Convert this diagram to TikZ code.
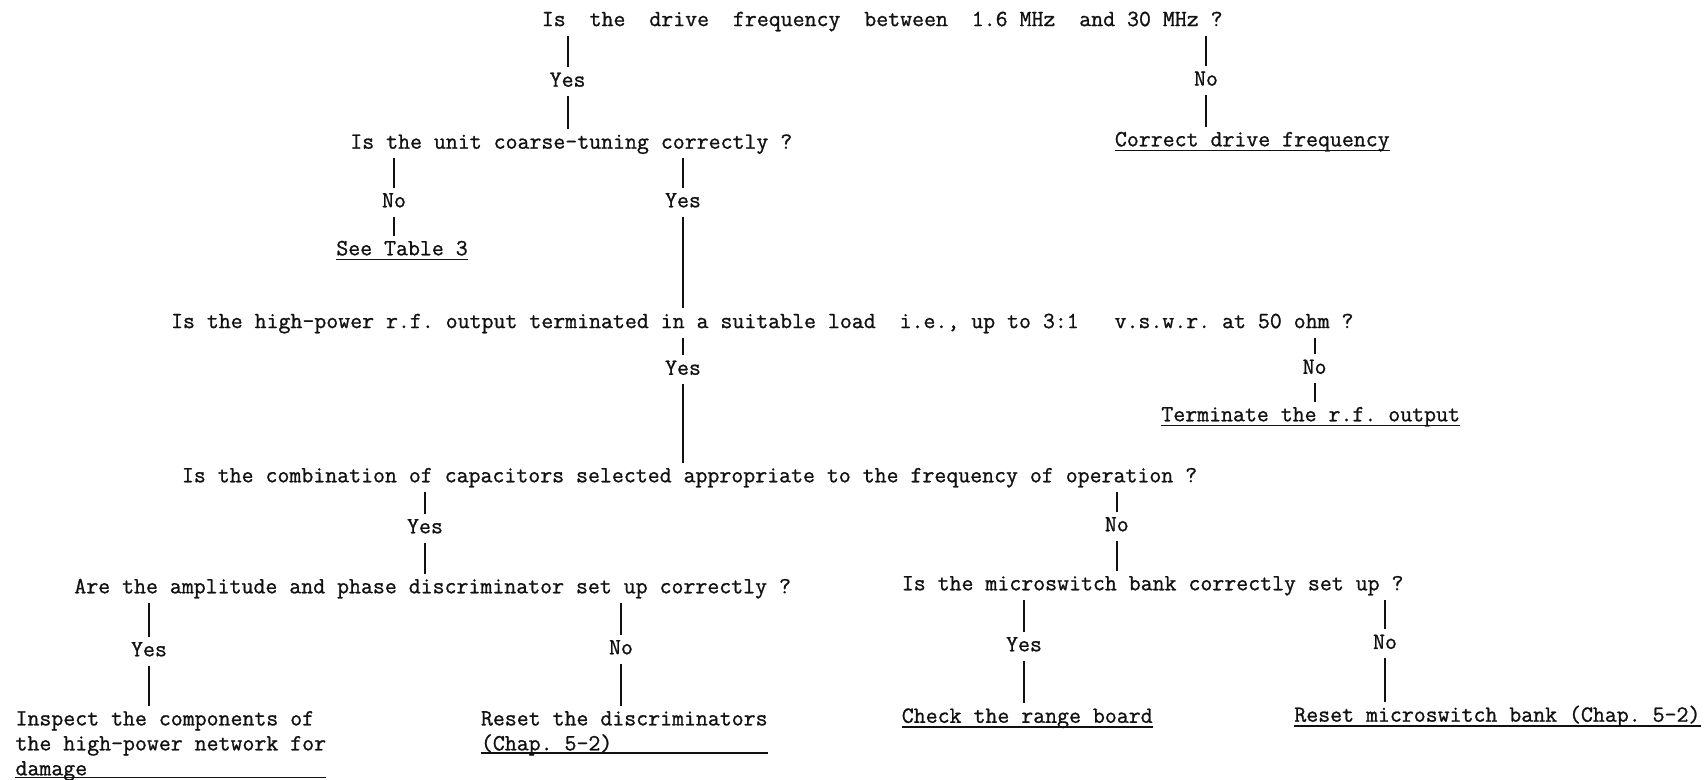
\documentclass[tikz,border=0pt]{standalone}
\usepackage{fontspec}
\setmonofont{Latin Modern Mono}[FakeBold=1.0]
\usepackage{tikz}
\usetikzlibrary{positioning}
\definecolor{ink}{HTML}{111111}
\tikzset{
  txt/.style={font=\ttfamily\fontsize{13.2}{14.2}\selectfont\frenchspacing,text=ink,inner xsep=0pt,inner ysep=3pt},
  qs/.style={txt,text height=8pt,text depth=2.2pt,anchor=west},
  yn/.style={txt,text height=8pt,text depth=2.2pt},
  fixm/.style={txt,align=left,anchor=north west},
  ln/.style={draw=ink,line width=1.1pt},
  ul/.style={draw=ink,line width=0.9pt}
}

\begin{document}
\begin{tikzpicture}[x=0.02cm,y=-0.02cm]
\useasboundingbox (0,0) rectangle (1705,779);
% questions
\node[qs] (q1) at (541.5,21) {Is\ \ the\ \ drive\ \ frequency\ \ between\ \ 1.6 MHz\ \ and 30 MHz ?};
\node[qs] (q2) at (350,143.6) {Is the unit coarse-tuning correctly ?};
\node[qs] (q3) at (170.7,323) {Is the high-power r.f. output terminated in a suitable load\ \ i.e., up to 3:1\ \ \ v.s.w.r. at 50 ohm ?};
\node[qs] (q4) at (181.6,477.2) {Is the combination of capacitors selected appropriate to the frequency of operation ?};
\node[qs] (q5) at (74,588.2) {Are the amplitude and phase discriminator set up correctly ?};
\node[qs] (q6) at (901.5,585.2) {Is the microswitch bank correctly set up ?};
% yes / no
\node[yn] (y1) at (567.6,81.6) {Yes};
\node[yn] (n1) at (1206,80.5) {No};
\node[yn] (n2) at (394,202.2) {No};
\node[yn] (y2) at (683,202.2) {Yes};
\node[yn] (y3) at (683,369.7) {Yes};
\node[yn] (n3) at (1314.6,368.7) {No};
\node[yn] (y4) at (425,528.2) {Yes};
\node[yn] (n4) at (1116.8,526.2) {No};
\node[yn] (y5) at (149,651.2) {Yes};
\node[yn] (n5) at (621,649.2) {No};
\node[yn] (y6) at (1024,646.2) {Yes};
\node[yn] (n6) at (1385,643.8) {No};
% remedies
\node[qs] (a1) at (1114.6,141.2) {Correct drive frequency};
\node[qs] (a2) at (336,250.2) {See Table 3};
\node[qs] (a3) at (1161,416.2) {Terminate the r.f. output};
\node[fixm] (a4) at (15.2,705.5) {Inspect the components of\\the high-power network for\\damage};
\node[fixm] (a5) at (480.6,705.6) {Reset the discriminators\\(Chap. 5-2)};
\node[qs] (a6) at (901.5,717.7) {Check the range board};
\node[qs] (a7) at (1294,716.6) {Reset microswitch bank (Chap. 5-2)};

\foreach \a/\l/\b in {q1/y1/q2,q1/n1/a1,q2/n2/a2,q2/y2/q3,q3/y3/q4,q3/n3/a3,
  q4/y4/q5,q4/n4/q6,q5/y5/a4,q5/n5/a5,q6/y6/a6,q6/n6/a7}{
  \draw[ln] (\a.south -| \l.north) -- (\l.north);
  \draw[ln] (\l.south) -- (\l.south |- \b.north);
}
\foreach \n/\d in {a1/3pt,a2/3pt,a3/3pt,a4/5pt,a5/4.6pt,a6/3pt,a7/3pt}
  \draw[ul] ([yshift=\d]\n.south west) -- ([yshift=\d]\n.south east);
\end{tikzpicture}
\end{document}
